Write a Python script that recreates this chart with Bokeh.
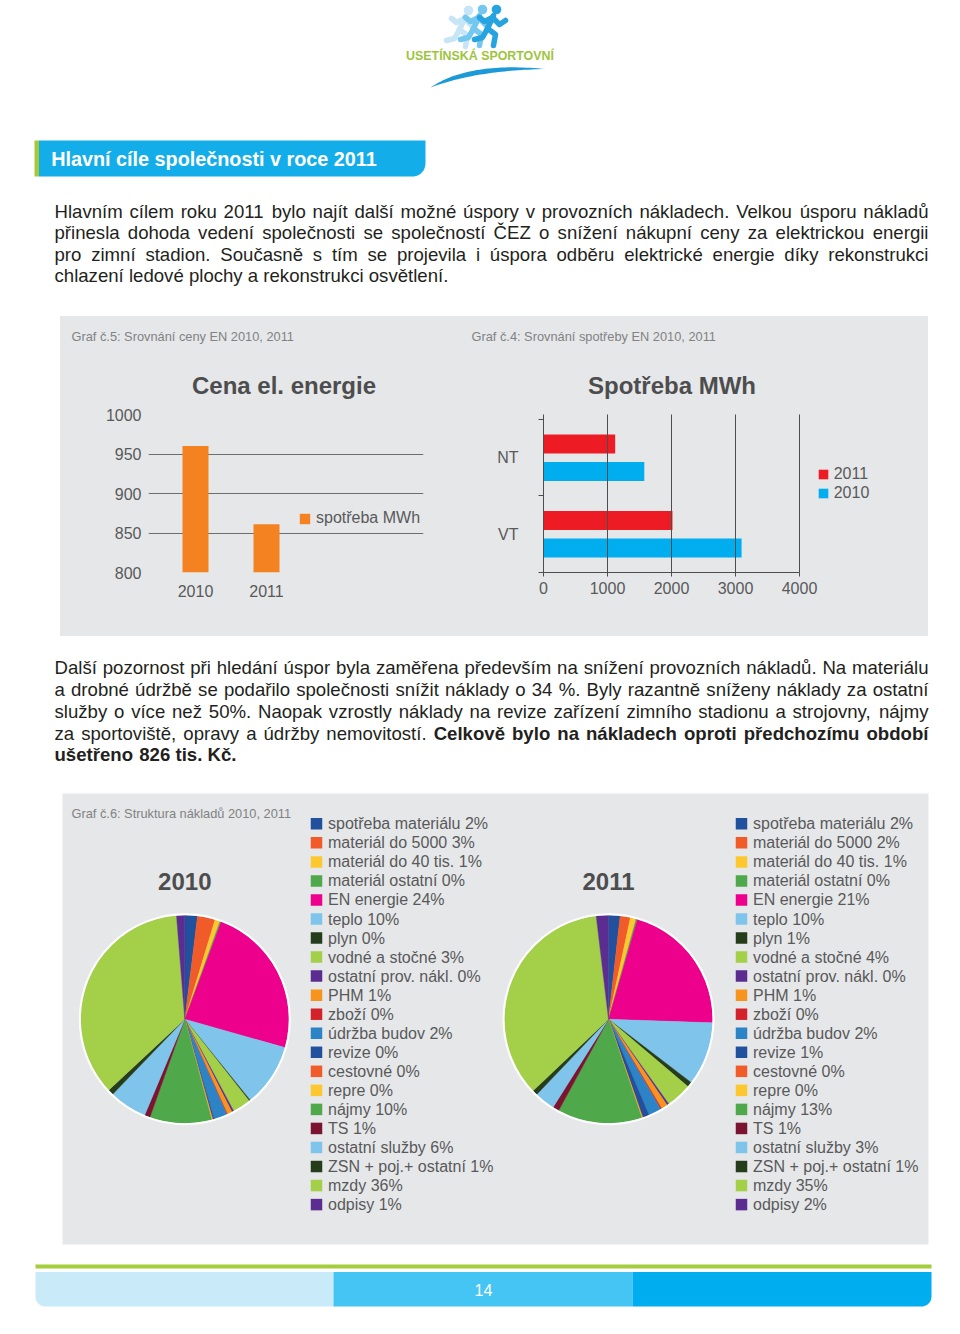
import numpy as np
from bokeh.plotting import figure
from bokeh.layouts import column, row
from bokeh.models import (Range1d, FixedTicker, Legend, LegendItem, Spacer,
                          ColumnDataSource)
from bokeh.core.properties import value
from bokeh.embed import file_html
from bokeh.resources import INLINE

# ------------------------------------------------------------------ data
price_years = ["2010", "2011"]
price_values = [960, 861]
price_ticks = [800, 850, 900, 950, 1000]
price_legend = "spotřeba MWh"

cons_categories = ["NT", "VT"]
cons_2011 = [1120, 2015]
cons_2010 = [1575, 3095]
cons_ticks = [0, 1000, 2000, 3000, 4000]

cost_names = ["spotřeba materiálu", "materiál do 5000", "materiál do 40 tis.",
              "materiál ostatní", "EN energie", "teplo", "plyn", "vodné a stočné",
              "ostatní prov. nákl.", "PHM", "zboží", "údržba budov", "revize",
              "cestovné", "repre", "nájmy", "TS", "ostatní služby",
              "ZSN + poj.+ ostatní", "mzdy", "odpisy"]
cost_2010 = [2.0, 2.8, 0.8, 0.2, 24.2, 10.0, 0.2, 2.9, 0.3, 0.8, 0.1, 2.1, 0.2,
             0.1, 0.1, 9.8, 0.9, 6.0, 0.9, 36.4, 1.3]
cost_2011 = [1.8, 1.6, 0.9, 0.2, 21.2, 9.9, 0.8, 4.0, 0.3, 1.0, 0.2, 2.0, 1.0,
             0.1, 0.1, 13.2, 1.0, 3.2, 0.8, 35.4, 1.9]

P1 = [
    "Hlavním cílem roku 2011 bylo najít další možné úspory v provozních nákladech. Velkou úsporu nákladů",
    "přinesla dohoda vedení společnosti se společností ČEZ o snížení nákupní ceny za elektrickou energii",
    "pro zimní stadion. Současně s tím se projevila i úspora odběru elektrické energie díky rekonstrukci",
    "chlazení ledové plochy a rekonstrukci osvětlení.",
]
P2 = [
    "Další pozornost při hledání úspor byla zaměřena především na snížení provozních nákladů. Na materiálu",
    "a drobné údržbě se podařilo společnosti snížit náklady o 34 %. Byly razantně sníženy náklady za ostatní",
    "služby o více než 50%. Naopak vzrostly náklady na revize zařízení zimního stadionu a strojovny, nájmy",
    "za sportoviště, opravy a údržby nemovitostí. *Celkově bylo na nákladech oproti předchozímu období",
    "*ušetřeno 826 tis. Kč.",
]

# ------------------------------------------------------------------ styles
FONT = "Liberation Sans"
GREY = "#e6e7e8"
TXT = "#58595b"
TITLE = "#4d4d4f"
CAP = "#808285"
BODY = "#231f20"
ORANGE = "#f58220"
RED = "#ed1c24"
BLUE = "#00aeef"
DARK = "#4d4d4f"
cost_colors = ["#21509d", "#f15a29", "#fdc82f", "#4fa84a", "#ec008c", "#7fc4ea",
               "#263d1c", "#a4cf48", "#5c2d91", "#f7941d", "#d2232a", "#2c84c6",
               "#21509d", "#f15a29", "#fdc82f", "#4fa84a", "#7b1431", "#7fc4ea",
               "#263d1c", "#a4cf48", "#5c2d91"]

# Arial / Liberation Sans advance widths (1/1000 em)
def _tbl(groups):
    d = {}
    for w, chars in groups:
        for c in chars:
            d[c] = w
    return d

REG = _tbl([(278, " ,.:;!/fIíÍt"), (222, "ijl"), (333, "r-ř()"), (355, "ť"),
            (500, "cksvxyzčšžýJ"), (556, "abdeghnopquáéěňóúů0123456789L"),
            (584, "+"), (611, "FTZŽ"), (615, "ď"), (667, "ABEKPSVXYŠ"),
            (722, "CDHNRUwČŘÚ"), (778, "GOQ"), (833, "mM"), (889, "%"), (944, "W")])
BOLD = _tbl([(278, " ,.íiIjl"), (333, "ft:"), (389, "rř"), (500, "zž"),
             (556, "acekvxysčšéěáýJ0123456789"), (611, "bdghnopqušůúóňFTZL"),
             (667, "EPSVXY"), (722, "ABCDHKNRUČ"), (778, "GOQw"), (833, "M"),
             (889, "m%"), (944, "W")])


def tw(s, bold=False):
    t = BOLD if bold else REG
    return sum(t.get(c, 556) for c in s) / 1000.0


def page_fig(x0, y0, w, h, bg="white"):
    p = figure(width=w, height=h, x_range=Range1d(x0, x0 + w),
               y_range=Range1d(-(y0 + h), -y0), x_axis_type=None, y_axis_type=None,
               toolbar_location=None, output_backend="svg", min_border=0, title=None,
               background_fill_color=bg, border_fill_color=bg, outline_line_color=None)
    return p


def ptext(p, x, y, s, size, color, align="left", style="normal"):
    p.text(x=[x], y=[-y], text=[s], text_font=value(FONT), text_font_size=size,
           text_font_style=style, text_color=color, text_align=align,
           text_baseline="middle")


def paragraph(p, lines, mid_y, step, fs, left=54, right=928):
    reg = dict(x=[], y=[], t=[])
    bld = dict(x=[], y=[], t=[])
    bold = False
    for i, line in enumerate(lines):
        words = []
        for w in line.split(" "):
            if w.startswith("*"):
                bold = True
                w = w[1:]
            words.append((w, bold))
        widths = [tw(w, b) * fs for w, b in words]
        if i == len(lines) - 1:
            gap = tw(" ") * fs
        else:
            gap = (right - left - sum(widths)) / (len(words) - 1)
        x = left
        for (w, b), wd in zip(words, widths):
            d = bld if b else reg
            d["x"].append(x)
            d["y"].append(-(mid_y + i * step))
            d["t"].append(w)
            x += wd + gap
    for d, st in ((reg, "normal"), (bld, "bold")):
        if d["t"]:
            p.text(x=d["x"], y=d["y"], text=d["t"], text_font=value(FONT),
                   text_font_size=f"{fs}px", text_font_style=st, text_color=BODY,
                   text_align="left", text_baseline="middle")


# ------------------------------------------------------------------ A: logo, header, paragraph 1
A = page_fig(0, 0, 960, 316)

def runner(p, ox, oy, s, color):
    segs = [[(19, 11), (13, 24)],
            [(18, 13), (10, 17), (5, 13)],
            [(18, 13), (25, 20), (31, 16)],
            [(13, 24), (21, 30), (19, 41)],
            [(13, 24), (8, 33), (0, 35)]]
    xs = [[ox + s * a for a, b in seg] for seg in segs]
    ys = [[-(oy + s * b) for a, b in seg] for seg in segs]
    p.multi_line(xs=xs, ys=ys, line_color=color, line_width=5.5, line_cap="round",
                 line_join="round")
    p.circle(x=ox + s * 22, y=-(oy + s * 5), radius=4.8 * s, fill_color=color,
             line_color=None)

runner(A, 446, 5, 1.0, "#c6e5f6")
runner(A, 460, 4, 1.0, "#74c8ef")
runner(A, 474, 4, 1.0, "#27a3df")

t = np.linspace(0, 1, 40)
ux = (1 - t) ** 2 * 430 + 2 * (1 - t) * t * 468 + t ** 2 * 545
uy = (1 - t) ** 2 * 87 + 2 * (1 - t) * t * 61 + t ** 2 * 68.5
lx = (1 - t) ** 2 * 545 + 2 * (1 - t) * t * 475 + t ** 2 * 430
ly = (1 - t) ** 2 * 68.5 + 2 * (1 - t) * t * 70 + t ** 2 * 87
A.patch(x=list(ux) + list(lx), y=[-v for v in list(uy) + list(ly)],
        fill_color="#1b9ad7", line_color=None)
ptext(A, 479.5, 55.7, "USETÍNSKÁ SPORTOVNÍ", "12.4px", "#9ec43d", align="center",
      style="bold")

# header bar
A.quad(left=34, right=38.5, top=-140, bottom=-176, fill_color="#a6c93a", line_color=None)
r = 13
th = np.linspace(0, np.pi / 2, 14)
cx, cy = 425 - r, 176 - r
hx = [38.5, 425] + list(cx + r * np.cos(th)) + [38.5]
hy = [140, 140] + list(cy + r * np.sin(th)) + [176]
A.patch(x=hx, y=[-v for v in hy], fill_color="#13aeea", line_color=None)
ptext(A, 50.7, 158, "Hlavní cíle společnosti v roce 2011", "19.8px", "white",
      style="bold")

paragraph(A, P1, 210.8, 21.5, 18.6)

# ------------------------------------------------------------------ B: captions, titles, charts
Bt = page_fig(60, 316, 868, 84, bg=GREY)
ptext(Bt, 71, 335.5, "Graf č.5: Srovnání ceny EN 2010, 2011", "12.8px", CAP)
ptext(Bt, 283.5, 385, "Cena el. energie", "24px", TITLE, align="center", style="bold")
ptext(Bt, 471, 335.5, "Graf č.4: Srovnání spotřeby EN 2010, 2011", "12.8px", CAP)
ptext(Bt, 671.5, 385, "Spotřeba MWh", "24px", TITLE, align="center", style="bold")

b1 = figure(width=400, height=236, x_range=Range1d(-0.662, 3.211),
            y_range=Range1d(price_ticks[0], price_ticks[-1]), toolbar_location=None,
            output_backend="svg", title=None, min_border_left=88, min_border_right=37,
            min_border_top=14, min_border_bottom=64, background_fill_color=GREY,
            border_fill_color=GREY, background_fill_alpha=1, border_fill_alpha=1,
            outline_line_color=None)
xpos = list(range(len(price_years)))
bars = b1.vbar(x=xpos, top=price_values, bottom=price_ticks[0], width=0.366,
               fill_color=ORANGE, line_color=None)
yt = FixedTicker(ticks=price_ticks)
b1.yaxis.ticker = yt
b1.ygrid.ticker = yt
b1.xaxis.ticker = FixedTicker(ticks=xpos)
b1.xaxis.major_label_overrides = {i: y for i, y in zip(xpos, price_years)}
b1.xgrid.visible = False
b1.ygrid.grid_line_color = "#6d6e71"
b1.ygrid.grid_line_width = 1
for ax in (b1.xaxis[0], b1.yaxis[0]):
    ax.axis_line_color = None
    ax.major_tick_line_color = None
    ax.minor_tick_line_color = None
    ax.major_tick_out = 0
    ax.major_tick_in = 0
    ax.major_label_text_font = FONT
    ax.major_label_text_font_size = "16px"
    ax.major_label_text_color = TXT
b1.yaxis.major_label_standoff = 7
b1.xaxis.major_label_standoff = 12
b1.add_layout(Legend(items=[LegendItem(label=price_legend, renderers=[bars])],
                     location=(150, 44), padding=0, margin=0, border_line_color=None,
                     background_fill_alpha=0, glyph_width=13, glyph_height=13,
                     label_standoff=5, label_height=20, label_text_font=FONT,
                     label_text_font_size="16px", label_text_color=TXT), "center")

ncat = len(cons_categories)
b2 = figure(width=468, height=236, x_range=Range1d(cons_ticks[0], 5265.6),
            y_range=Range1d(0, ncat + 0.065), toolbar_location=None, output_backend="svg",
            title=None, min_border_left=83, min_border_right=48, min_border_top=14,
            min_border_bottom=64, background_fill_color=GREY, border_fill_color=GREY,
            background_fill_alpha=1, border_fill_alpha=1, outline_line_color=None)
centers = [ncat - 1 - i + 0.5 for i in range(ncat)]
r11 = b2.hbar(y=[c + 0.18 for c in centers], right=cons_2011, left=0, height=0.25,
              fill_color=RED, line_color=None)
r10 = b2.hbar(y=[c - 0.18 for c in centers], right=cons_2010, left=0, height=0.25,
              fill_color=BLUE, line_color=None)
b2.yaxis.ticker = FixedTicker(ticks=centers, minor_ticks=list(range(ncat + 1)))
b2.yaxis.major_label_overrides = {c: n for c, n in zip(centers, cons_categories)}
xt = FixedTicker(ticks=cons_ticks)
b2.xaxis.ticker = xt
b2.xaxis.bounds = (cons_ticks[0], cons_ticks[-1])
b2.xgrid.ticker = xt
b2.ygrid.visible = False
b2.xgrid.grid_line_color = DARK
b2.xgrid.grid_line_width = 1
b2.xgrid.level = "overlay"
for ax in (b2.xaxis[0], b2.yaxis[0]):
    ax.axis_line_color = DARK
    ax.axis_line_width = 1
    ax.major_label_text_font = FONT
    ax.major_label_text_font_size = "16px"
    ax.major_label_text_color = TXT
b2.yaxis.major_tick_line_color = None
b2.yaxis.major_tick_out = 0
b2.yaxis.minor_tick_in = 0
b2.yaxis.minor_tick_out = 5
b2.yaxis.minor_tick_line_color = DARK
b2.yaxis.major_label_standoff = 20
b2.xaxis.minor_tick_line_color = None
b2.xaxis.major_tick_in = 0
b2.xaxis.major_tick_out = 4
b2.xaxis.major_tick_line_color = DARK
b2.xaxis.major_label_standoff = 5
b2.add_layout(Legend(items=[LegendItem(label="2011", renderers=[r11]),
                            LegendItem(label="2010", renderers=[r10])],
                     location=(273.7, 69.8), padding=0, margin=0, spacing=0,
                     border_line_color=None, background_fill_alpha=0, glyph_width=12,
                     glyph_height=12, label_standoff=5, label_height=19,
                     label_text_font=FONT, label_text_font_size="16px",
                     label_text_color=TXT), "center")

charts = row(b1, b2, styles={"background-color": GREY})
mid = column(Bt, charts, styles={"background-color": GREY})
rowB = row(Spacer(width=60, height=320), mid, Spacer(width=32, height=320))

# ------------------------------------------------------------------ C: paragraph 2
C = page_fig(0, 636, 960, 156)
paragraph(C, P2, 667.3, 21.75, 18.6)

# ------------------------------------------------------------------ D: pies
D = page_fig(0, 792, 960, 454)
D.quad(left=61, right=929, top=-792, bottom=-1245, fill_color=GREY, line_color="white",
       line_width=2)
ptext(D, 71, 813, "Graf č.6: Struktura nákladů 2010, 2011", "12.8px", CAP)


def pie(p, cx, cy, vals, title, lx):
    v = np.array(vals, float)
    frac = v / v.sum()
    c1 = np.cumsum(frac)
    c0 = c1 - frac
    src = ColumnDataSource(dict(start=np.pi / 2 - 2 * np.pi * c1,
                                end=np.pi / 2 - 2 * np.pi * c0, color=cost_colors))
    p.wedge(x=cx, y=-cy, radius=104, start_angle="start", end_angle="end",
            direction="anticlock", fill_color="color", line_color="color",
            line_width=0.4, source=src)
    p.circle(x=cx, y=-cy, radius=105, fill_color=None, line_color="white", line_width=2)
    ptext(p, cx, 881, title, "24px", TITLE, align="center", style="bold")
    labels = [f"{n} {int(round(100 * f))}%" for n, f in zip(cost_names, frac)]
    ys = [-(823.3 + i * 19.04) for i in range(len(labels))]
    p.scatter(x=[lx] * len(labels), y=ys, marker="square", size=11.5,
              fill_color=cost_colors, line_color=None)
    p.text(x=[lx + 11.5] * len(labels), y=ys, text=labels, text_font=value(FONT),
           text_font_size="16px", text_color=TXT, text_align="left",
           text_baseline="middle")


pie(D, 184.3, 1018.8, cost_2010, "2010", 316)
pie(D, 608, 1018.8, cost_2011, "2011", 741)

# ------------------------------------------------------------------ E: footer
E = page_fig(0, 1246, 960, 88)
E.quad(left=35, right=931, top=-1264, bottom=-1268, fill_color="#a3cd3a", line_color=None)
rr = 10
thl = np.linspace(np.pi / 2, np.pi, 12)
lxs = [35, 333, 333] + list(35 + rr + rr * np.cos(thl))
lys = [1271.5, 1271.5, 1306] + list(1306 - rr + rr * np.sin(thl))
E.patch(x=lxs, y=[-v for v in lys], fill_color="#c8eaf9", line_color=None)
E.quad(left=333, right=632, top=-1271.5, bottom=-1306, fill_color="#45c5f3",
       line_color=None)
thr = np.linspace(0, np.pi / 2, 12)
rxs = [632, 931] + list(931 - rr + rr * np.cos(thr)) + [632]
rys = [1271.5, 1271.5] + list(1306 - rr + rr * np.sin(thr)) + [1306]
E.patch(x=rxs, y=[-v for v in rys], fill_color="#00aeef", line_color=None)
ptext(E, 483, 1289, "14", "16px", "white", align="center")

page = column(A, rowB, C, D, E)
open("out.html", "w").write(file_html(page, INLINE))
